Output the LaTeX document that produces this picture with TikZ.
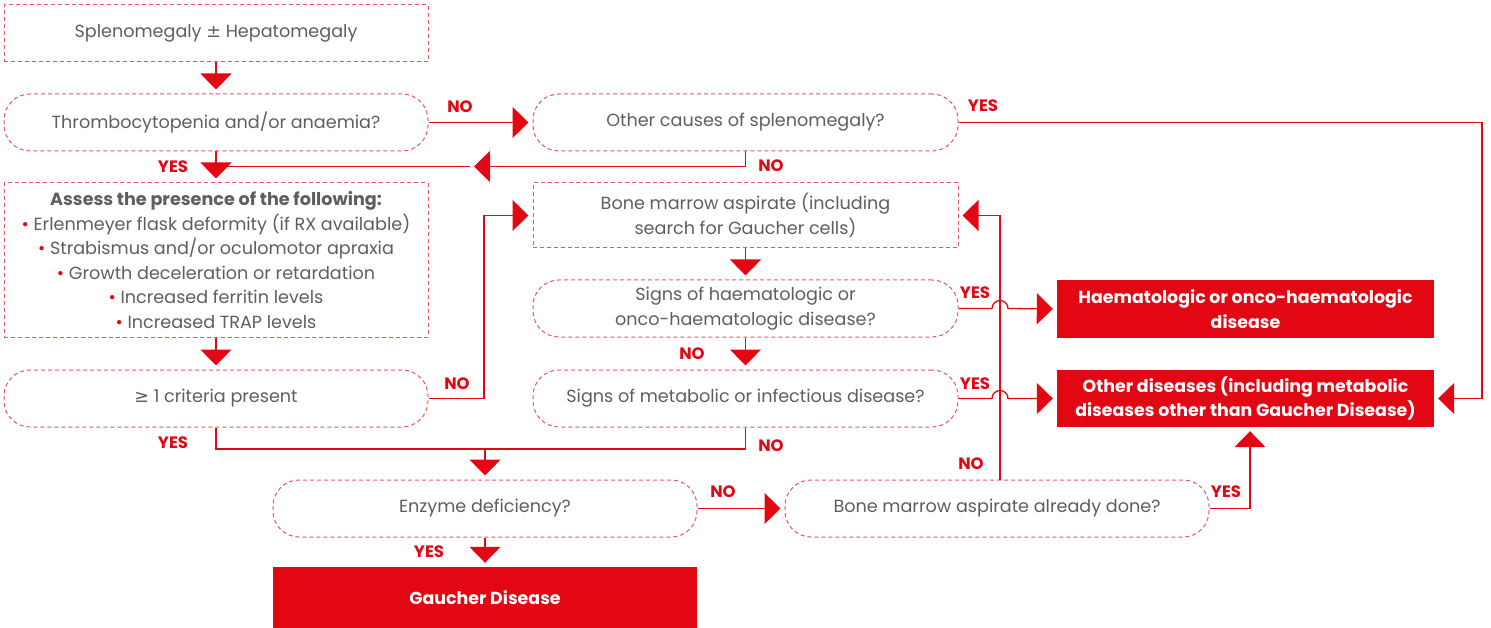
\documentclass[tikz,border=0pt]{standalone}
\usepackage{fontspec}
\setmainfont{Poppins}
\newfontfamily\symfont{DejaVu Sans}
\usetikzlibrary{arrows.meta,positioning}
\definecolor{gred}{HTML}{E30613}
\definecolor{dashred}{HTML}{EB5560}
\definecolor{txtgrey}{HTML}{5E5E5E}
\tikzset{
  flowbase/.style={align=center, inner sep=0, text=txtgrey,
    font=\fontsize{17.6}{24.5}\selectfont},
  sqbox/.style={flowbase, draw=dashred, line width=1pt, dash pattern=on 4pt off 3pt,
    minimum width=424pt, minimum height=57pt},
  rndbox/.style={sqbox, rounded corners=26pt},
  endbox/.style={flowbase, fill=gred, text=white,
    font=\bfseries\fontsize{17.4}{24.5}\selectfont,
    minimum width=377pt, minimum height=57pt},
  yn/.style={text=gred, inner sep=0, font=\bfseries\fontsize{16.5}{16.5}\selectfont},
  link/.style={draw=gred, line width=1.3pt},
  go/.style={link, shorten >=4pt, -{Triangle[length=16pt,width=31pt]}}
}
\newcommand{\bul}{{\color{gred}\textbullet}\ }

\begin{document}
\begin{tikzpicture}[x=1pt, y=1pt]
\useasboundingbox (0,0) rectangle (1491,-628);

% left column
\node[sqbox] (spleno) at (216,-33.5) {Splenomegaly {\symfont ±} Hepatomegaly};
\node[rndbox] (thrombo) at (216,-122.5) {Thrombocytopenia and/or anaemia?};
\node[sqbox, minimum height=154pt] (assess) at (216,-260) {%
  {\bfseries Assess the presence of the following:}\\
  \bul Erlenmeyer flask deformity (if RX available)\\
  \bul Strabismus and/or oculomotor apraxia\\
  \bul Growth deceleration or retardation\\
  \bul Increased ferritin levels\\
  \bul Increased TRAP levels};
\node[rndbox] (crit) at (216,-398.5) {{\symfont ≥} 1 criteria present};

% middle column
\node[rndbox, minimum width=425pt] (other) at (745.5,-122.5) {Other causes of splenomegaly?};
\node[sqbox, minimum width=425pt, minimum height=65pt] (bma) at (745.5,-215.5)
  {Bone marrow aspirate (including\\search for Gaucher cells)};
\node[rndbox, minimum width=425pt] (haem) at (745.5,-308.5)
  {Signs of haematologic or\\onco-haematologic disease?};
\node[rndbox, minimum width=425pt] (metab) at (745.5,-398.5)
  {Signs of metabolic or infectious disease?};

% right column
\node[endbox] (haemdis) at (1245.5,-309)
  {Haematologic or onco-haematologic\\disease};
\node[endbox] (othdis) at (1245.5,-398.5)
  {Other diseases (including metabolic\\diseases other than Gaucher Disease)};

% bottom
\node[rndbox] (enzyme) at (485,-508.5) {Enzyme deficiency?};
\node[rndbox] (done) at (997,-508.5) {Bone marrow aspirate already done?};
\node[endbox, minimum width=424pt, minimum height=62pt] (gaucher) at (485,-598)
  {Gaucher Disease};

% junction points
\coordinate (backtip) at (470,-166.5);
\coordinate (crossx) at (484,-300);
\coordinate (farright) at (1482,-300);
\coordinate (bottomjoin) at (485,-449);
\coordinate (hopA) at (992,-308.5);
\coordinate (hopB) at (992,-398.5);
\coordinate (upno) at (1000,-480);

% connectors
\draw[go] (spleno) -- (thrombo);
\draw[go] (thrombo) -- (other);
\draw[go] (other.east) -| (farright) |- (othdis.east);
\draw[go] (other.south) |- (backtip);
\draw[link] (backtip) -- (backtip -| thrombo.south);
\draw[go] (thrombo) -- (assess);
\draw[go] (assess) -- (crit);
\draw[go] (crit.east) -| (crossx) |- (bma.west);
\draw[go] (bma) -- (haem);
\draw[go] (haem) -- (metab);
\draw[go] (haem.east) -- (hopA) arc (180:0:8) -- (haemdis.west);
\draw[go] (metab.east) -- (hopB) arc (180:0:8) -- (othdis.west);
\draw[link] (crit.south) |- (bottomjoin) -| (metab.south);
\draw[go] (bottomjoin) -- (enzyme);
\draw[go] (enzyme) -- (done);
\draw[go] (enzyme) -- (gaucher);
\draw[go] (upno) |- (bma.east);
\draw[go] (done.east) -| ([xshift=4.5pt]othdis.south);

% answer labels
\node[yn] at (460,-107) {NO};
\node[yn] at (983,-106) {YES};
\node[yn] at (771,-166) {NO};
\node[yn] at (173,-167) {YES};
\node[yn] at (457,-384) {NO};
\node[yn] at (975,-293) {YES};
\node[yn] at (692,-354) {NO};
\node[yn] at (975,-384) {YES};
\node[yn] at (173,-443) {YES};
\node[yn] at (771,-446) {NO};
\node[yn] at (971,-464) {NO};
\node[yn] at (723,-492) {NO};
\node[yn] at (1226,-492) {YES};
\node[yn] at (429,-552) {YES};
\end{tikzpicture}
\end{document}
